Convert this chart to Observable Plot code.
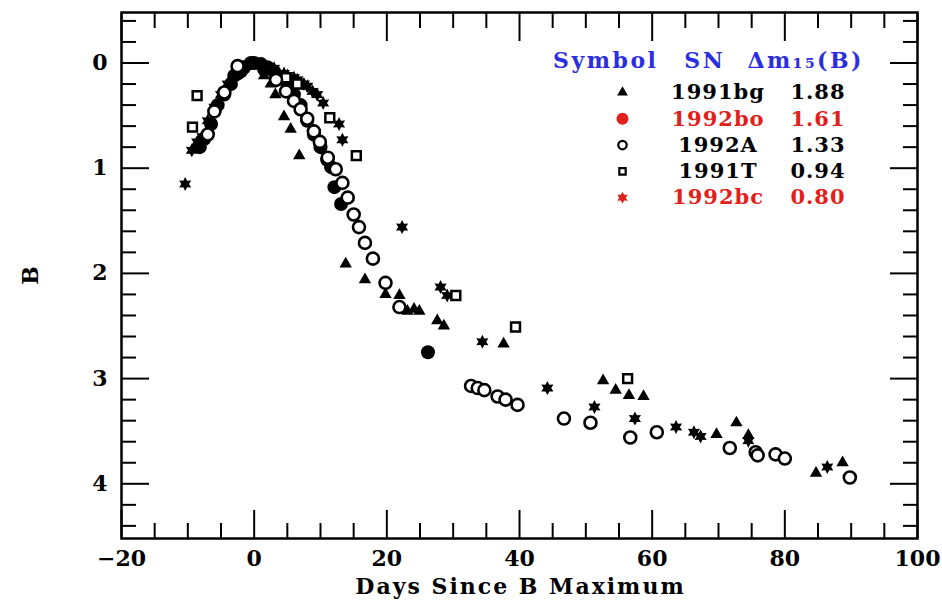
<!DOCTYPE html>
<html>
<head>
<meta charset="utf-8">
<script src="https://cdn.jsdelivr.net/npm/d3@7"></script>
<script src="https://cdn.jsdelivr.net/npm/@observablehq/plot@0.6"></script>
<style>
  body { margin: 0; background: #fff; }
  #chart { width: 942px; height: 602px; }
</style>
</head>
<body>
<div id="chart"></div>
<script>
// ---------------- DATA ----------------
// SN 1991bg (filled triangles)
const sn1991bgDay = [1.5, 2.5, 3.2, 4.5, 5.5, 6.8, 13.8, 16.7, 19.8, 21.9, 23.1, 24.1, 24.9, 27.6, 28.6, 37.6, 52.6, 54.5, 56.5, 58.7, 69.7, 72.7, 74.5, 84.7, 88.7];
const sn1991bgB   = [0.12, 0.2, 0.3, 0.51, 0.63, 0.88, 1.91, 2.06, 2.2, 2.21, 2.36, 2.34, 2.36, 2.45, 2.5, 2.67, 3.02, 3.11, 3.16, 3.17, 3.53, 3.42, 3.54, 3.90, 3.80];

// SN 1992bo (filled circles)
const sn1992boDay = [-8.2, -7.5, -6.5, -5.5, -4.5, -3.5, -3.0, -2.5, -2.0, -1.5, -0.5, 0, 1, 1.5, 2, 3, 3.5, 4, 5, 6, 7, 8, 9, 10, 11, 11.6, 12.1, 13.1, 26.2];
const sn1992boB   = [0.8, 0.72, 0.58, 0.4, 0.3, 0.2, 0.12, 0.1, 0.08, 0.04, 0.0, 0.0, 0.01, 0.06, 0.04, 0.08, 0.15, 0.13, 0.2, 0.3, 0.4, 0.55, 0.68, 0.8, 0.92, 0.99, 1.18, 1.34, 2.75];

// SN 1992A (open circles)
const sn1992ADay = [-7.0, -6.0, -4.5, -2.5, 3.3, 4.8, 6.0, 7.0, 8.0, 9.0, 9.9, 11.1, 12.3, 13.3, 14.1, 15.0, 15.8, 16.7, 17.9, 19.8, 21.9, 32.7, 33.7, 34.7, 36.7, 37.9, 39.7, 46.7, 50.7, 56.7, 60.7, 71.7, 75.6, 75.9, 78.6, 80.0, 89.8];
const sn1992AB   = [0.68, 0.46, 0.28, 0.03, 0.16, 0.27, 0.36, 0.44, 0.53, 0.65, 0.75, 0.9, 1.01, 1.14, 1.28, 1.44, 1.56, 1.71, 1.86, 2.09, 2.32, 3.07, 3.09, 3.11, 3.17, 3.2, 3.25, 3.38, 3.42, 3.56, 3.51, 3.66, 3.7, 3.73, 3.72, 3.76, 3.94];

// SN 1991T (open squares)
const sn1991TDay = [-9.3, -8.6, 4.8, 6.5, 11.4, 15.4, 30.4, 39.4, 56.3];
const sn1991TB   = [0.61, 0.31, 0.14, 0.2, 0.52, 0.88, 2.21, 2.51, 3.0];

// SN 1992bc (stars)
const sn1992bcDay = [-10.4, -9.4, -8.6, -7.8, -7.0, -6.0, -5.0, -4.0, -3.0, -2.0, -1.0, 0, 1.5, 3.0, 4.5, 5.0, 6.0, 6.5, 7.5, 8.0, 8.8, 9.5, 10.4, 12.8, 13.3, 22.3, 28.1, 29.1, 34.4, 44.2, 51.3, 57.4, 63.6, 66.3, 67.3, 74.5, 86.4];
const sn1992bcB   = [1.15, 0.83, 0.75, 0.7, 0.55, 0.42, 0.3, 0.2, 0.12, 0.05, 0.01, 0.0, 0.02, 0.05, 0.1, 0.12, 0.14, 0.16, 0.2, 0.22, 0.27, 0.3, 0.38, 0.58, 0.73, 1.56, 2.13, 2.21, 2.65, 3.09, 3.27, 3.38, 3.46, 3.51, 3.55, 3.59, 3.84];

// Legend
const legendHeader = ["Symbol", "SN", "Δm₁₅(B)"];
const legendSN     = ["1991bg", "1992bo", "1992A", "1991T", "1992bc"];
const legendDm15   = ["1.88", "1.61", "1.33", "0.94", "0.80"];

// Axes
const xMajorTicks = [-20, 0, 20, 40, 60, 80, 100];
const xTickLabels = ["−20", "0", "20", "40", "60", "80", "100"];
const yMajorTicks = [0, 1, 2, 3, 4];
const yTickLabels = ["0", "1", "2", "3", "4"];
const xTitle = "Days Since B Maximum";
const yTitle = "B";

// ---------------- STYLE ----------------
const RED = "#e0211b", BLUE = "#2a2ee0";
const star6 = {
  draw(ctx, size) {
    const R = Math.sqrt(size / Math.PI), r = R * 0.55;
    for (let i = 0; i < 12; i++) {
      const a = i * Math.PI / 6 - Math.PI / 2, rad = i % 2 ? r : R;
      const px = rad * Math.cos(a), py = rad * Math.sin(a);
      if (i === 0) ctx.moveTo(px, py); else ctx.lineTo(px, py);
    }
    ctx.closePath();
  }
};
const pts = (days, mags) => days.map((d, i) => ({day: d, B: mags[i]}));

const xMinor = d3.range(-15, 100, 5).filter(d => d % 20 !== 0);
const yMinor = d3.range(-0.4, 4.5, 0.2).map(d => Math.round(d * 10) / 10).filter(d => !Number.isInteger(d));

const tickOpts = {stroke: "black", strokeWidth: 2, fill: "none", label: null};

// legend marks
const legendSymbols = [
  {symbol: "triangle", fill: "black", stroke: "none", r: 4, sw: 0},
  {symbol: "circle", fill: RED, stroke: "none", r: 6, sw: 0},
  {symbol: "circle", fill: "white", stroke: "black", r: 4.2, sw: 2.2},
  {symbol: "square", fill: "white", stroke: "black", r: 3.6, sw: 2.2},
  {symbol: star6, fill: RED, stroke: "none", r: 6, sw: 0}
];
const legendTextColor = ["black", RED, "black", "black", RED];
const legendMarks = [];
const headerDx = [483, 582, 683];
const txt = {frameAnchor: "top-left", textAnchor: "middle", lineAnchor: "middle", text: d => d};
legendHeader.forEach((h, i) => legendMarks.push(
  Plot.text([h], {...txt, dx: headerDx[i], dy: 48, fill: BLUE, fontSize: 22})
));
legendSN.forEach((sn, i) => {
  const dy = 80 + i * 26.3;
  const s = legendSymbols[i];
  legendMarks.push(Plot.dot([0], {frameAnchor: "top-left", dx: 501, dy, symbol: s.symbol, r: s.r, fill: s.fill, stroke: s.stroke, strokeWidth: s.sw}));
  legendMarks.push(Plot.text([sn], {...txt, dx: 596, dy, fill: legendTextColor[i], fontSize: 21}));
  legendMarks.push(Plot.text([legendDm15[i]], {...txt, dx: 696, dy, fill: legendTextColor[i], fontSize: 21}));
});

const chart = Plot.plot({
  width: 942,
  height: 602,
  marginLeft: 121,
  marginRight: 25,
  marginTop: 12,
  marginBottom: 64,
  style: {fontFamily: "'DejaVu Serif', serif", fontWeight: "bold", background: "white", color: "black"},
  x: {domain: [-20, 100]},
  y: {domain: [-0.48, 4.52], reverse: true},
  marks: [
    // ticks (inward) on all four sides
    Plot.axisX(xMajorTicks, {anchor: "bottom", tickSize: -28, ...tickOpts}),
    Plot.axisX(xMinor, {anchor: "bottom", tickSize: -15, ...tickOpts}),
    Plot.axisX(xMajorTicks, {anchor: "top", tickSize: -28, ...tickOpts}),
    Plot.axisX(xMinor, {anchor: "top", tickSize: -15, ...tickOpts}),
    Plot.axisY(yMajorTicks, {anchor: "left", tickSize: -28, ...tickOpts}),
    Plot.axisY(yMinor, {anchor: "left", tickSize: -15, ...tickOpts}),
    Plot.axisY(yMajorTicks, {anchor: "right", tickSize: -28, ...tickOpts}),
    Plot.axisY(yMinor, {anchor: "right", tickSize: -15, ...tickOpts}),
    // tick labels
    Plot.axisX(xMajorTicks, {anchor: "bottom", tickSize: 0, tickPadding: 12, fontSize: 22, label: null, tickFormat: (d, i) => xTickLabels[i]}),
    Plot.axisY(yMajorTicks, {anchor: "left", tickSize: 0, tickPadding: 14, fontSize: 22, label: null, tickFormat: (d, i) => yTickLabels[i]}),
    // axis titles
    Plot.text([xTitle], {frameAnchor: "bottom", textAnchor: "middle", lineAnchor: "middle", dy: 48, text: d => d, fontSize: 22}),
    Plot.text([yTitle], {frameAnchor: "left", textAnchor: "middle", lineAnchor: "middle", dx: -91, rotate: -90, text: d => d, fontSize: 22}),
    // data
    Plot.dot(pts(sn1992bcDay, sn1992bcB), {x: "day", y: "B", symbol: star6, r: 7, fill: "black"}),
    Plot.dot(pts(sn1992boDay, sn1992boB), {x: "day", y: "B", symbol: "circle", r: 7, fill: "black"}),
    Plot.dot(pts(sn1991bgDay, sn1991bgB), {x: "day", y: "B", symbol: "triangle", r: 4.6, fill: "black"}),
    Plot.dot(pts(sn1991TDay, sn1991TB), {x: "day", y: "B", symbol: "square", r: 5, fill: "white", stroke: "black", strokeWidth: 2.5}),
    Plot.dot(pts(sn1992ADay, sn1992AB), {x: "day", y: "B", symbol: "circle", r: 6, fill: "white", stroke: "black", strokeWidth: 2.6}),
    ...legendMarks,
    Plot.frame({stroke: "black", strokeWidth: 2.5})
  ]
});
document.getElementById("chart").append(chart);

// letter spacing tweaks to mimic the wide plotter font
chart.querySelectorAll("text").forEach(t => {
  const s = t.textContent;
  let ls = null;
  if (legendHeader.includes(s)) ls = 2.5;
  else if (legendSN.includes(s) || legendDm15.includes(s)) ls = 1;
  else if (s === xTitle) ls = 2;
  if (ls !== null) {
    t.setAttribute("letter-spacing", ls);
    const dx = parseFloat(t.getAttribute("dx") || 0);
    t.setAttribute("dx", dx + ls / 2);
  }
});
</script>
</body>
</html>
